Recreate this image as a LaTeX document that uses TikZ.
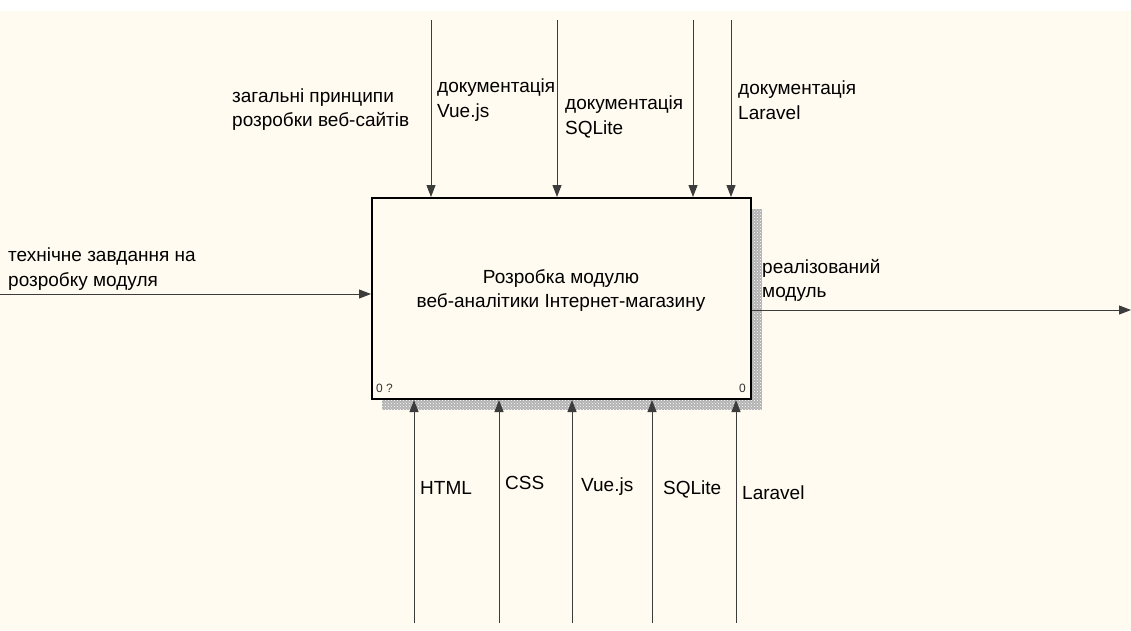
\documentclass[tikz,border=0pt]{standalone}
\usepackage{fontspec}
\setmainfont{Liberation Sans}
\usetikzlibrary{arrows.meta,patterns}
\definecolor{cream}{RGB}{255,251,240}
\definecolor{conn}{RGB}{60,60,60}
\begin{document}
\begin{tikzpicture}[x=1pt,y=-1pt,
  lbl/.style={font=\fontsize{19}{24.5}\selectfont, align=left, anchor=west, inner sep=0pt, text=black},
  small/.style={font=\fontsize{12}{14}\selectfont, inner sep=0pt, text=black!80},
  flow/.style={draw=conn, line width=1pt, -{Triangle[length=12pt,width=9pt]}},
  actbox/.style={draw=black, line width=2pt, fill=cream, minimum width=379pt, minimum height=201pt, inner sep=0pt}]
\useasboundingbox (0,0) rectangle (1131,630);
\fill[white] (0,0) rectangle (1131,630);
\fill[cream] (0,11) rectangle (1131,630);
% shadow
\fill[gray!60] (382,209) rectangle (762,410);
\fill[pattern=crosshatch dots, pattern color=white] (382,209) rectangle (762,410);
\node[actbox] (box) at (561.5,298.5) {};
\node[font=\fontsize{19}{24.5}\selectfont, align=center, inner sep=0pt, text=black] (title) at (561,290.5) {Розробка модулю\\веб-аналітики Інтернет-магазину};
\node[small, anchor=west] (n1) at (376,388) {0 ?};
\node[small, anchor=east] (n2) at (746,388) {0};
% free ends
\coordinate (c1) at (431,20);
\coordinate (c2) at (557,20);
\coordinate (c3) at (693,20);
\coordinate (c4) at (731,20);
\coordinate (i1) at (0,294);
\coordinate (o1) at (1131,310);
\coordinate (m1) at (414,623);
\coordinate (m2) at (499,623);
\coordinate (m3) at (572,623);
\coordinate (m4) at (652,623);
\coordinate (m5) at (736,623);
% controls
\draw[flow] (c1) -- (c1 |- box.north);
\draw[flow] (c2) -- (c2 |- box.north);
\draw[flow] (c3) -- (c3 |- box.north);
\draw[flow] (c4) -- (c4 |- box.north);
% input / output
\draw[flow] (i1) -- (i1 -| box.west);
\draw[flow] (o1 -| box.east) -- (o1);
% mechanisms
\draw[flow] (m1) -- (m1 |- box.south);
\draw[flow] (m2) -- (m2 |- box.south);
\draw[flow] (m3) -- (m3 |- box.south);
\draw[flow] (m4) -- (m4 |- box.south);
\draw[flow] (m5) -- (m5 |- box.south);
% labels
\node[lbl] (l1) at (232,109.5) {загальні принципи\\розробки веб-сайтів};
\node[lbl] (l2) at (437,100) {документація\\Vue.js};
\node[lbl] (l3) at (565,117) {документація\\SQLite};
\node[lbl] (l4) at (738,100) {документація\\Laravel};
\node[lbl] (l5) at (8,269) {технічне завдання на\\розробку модуля};
\node[lbl] (l6) at (762,280.5) {реалізований\\модуль};
\node[lbl] (l7) at (420,488) {HTML};
\node[lbl] (l8) at (505,483) {CSS};
\node[lbl] (l9) at (581,487) {Vue.js};
\node[lbl] (l10) at (663,489) {SQLite};
\node[lbl] (l11) at (742,493) {Laravel};
\end{tikzpicture}
\end{document}
